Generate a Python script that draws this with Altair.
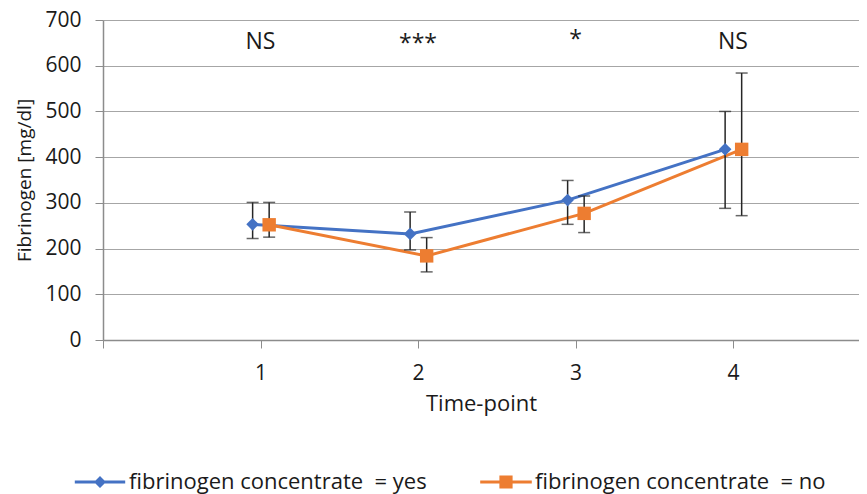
import altair as alt
import pandas as pd

# ---- data ----
timepoints = [1, 2, 3, 4]
series_names = ["fibrinogen concentrate\u00a0 = yes", "fibrinogen concentrate\u00a0 = no"]
series_colors = ["#4472C4", "#ED7D31"]
series_dx = [-0.05, 0.055]

yes_mean = [253, 232, 306, 417]
yes_low = [222, 197, 253, 288]
yes_high = [301, 280, 349, 500]

no_mean = [252, 184, 277, 417]
no_low = [225, 149, 235, 272]
no_high = [301, 224, 315, 584]

sig_labels = ["NS", "***", "*", "NS"]
sig_y = [652, 647, 656, 652]

x_ticks = [0, 1, 2, 3, 4]
y_ticks = [0, 100, 200, 300, 400, 500, 600, 700]

rows = []
for name, dx, m, lo, hi in [
    (series_names[0], series_dx[0], yes_mean, yes_low, yes_high),
    (series_names[1], series_dx[1], no_mean, no_low, no_high),
]:
    for t, a, b, c in zip(timepoints, m, lo, hi):
        rows.append({"series": name, "t": t, "x": t + dx, "mean": a, "lo": b, "hi": c})
df = pd.DataFrame(rows)
sig_df = pd.DataFrame({"t": timepoints, "y": sig_y, "label": sig_labels})

FONT = "Open Sans"
TXT = "#1a1a1a"

xscale = alt.Scale(domain=[0, 4.8], nice=False, zero=False)
yscale = alt.Scale(domain=[0, 700], nice=False)
cscale = alt.Scale(domain=series_names, range=series_colors)

yes_path = ("M-4.2,-0.25L-0.75,-0.25L0,-1L0.75,-0.25L4.2,-0.25L4.2,0.25"
            "L0.75,0.25L0,1L-0.75,0.25L-4.2,0.25Z")
no_path = ("M-4.3,-0.25L-1.1,-0.25L-1.1,-1.1L1.1,-1.1L1.1,-0.25L4.3,-0.25"
           "L4.3,0.25L1.1,0.25L1.1,1.1L-1.1,1.1L-1.1,0.25L-4.3,0.25Z")

xaxis = alt.Axis(
    values=x_ticks, labelExpr="datum.value == 0 ? '' : datum.label",
    title="Time-point", grid=False, tickSize=8, labelPadding=14,
    titlePadding=10, labelFontSize=21, titleFontSize=22,
)
yaxis = alt.Axis(
    values=y_ticks, title="Fibrinogen [mg/dl]", grid=True, tickSize=8,
    labelPadding=14, titlePadding=10, labelFontSize=21, titleFontSize=19,
)
leg = alt.Legend(
    title=None, orient="none", direction="horizontal",
    legendX=-14, legendY=451, symbolSize=144, symbolStrokeWidth=0,
    symbolOpacity=1, labelFontSize=22, labelFont=FONT, labelColor=TXT,
    labelOffset=18, labelLimit=0, columnPadding=53, padding=0,
)

X = lambda f: alt.X(f, scale=xscale, axis=xaxis)
Y = lambda f: alt.Y(f, scale=yscale, axis=yaxis)

base = alt.Chart(df)

lines = base.mark_line(strokeWidth=3).encode(
    x=X("x:Q"), y=Y("mean:Q"),
    color=alt.Color("series:N", scale=cscale, legend=leg),
    detail="series:N",
)

err = base.mark_rule(color="#262626", strokeWidth=1.5).encode(
    x=X("x:Q"), y=Y("lo:Q"), y2="hi:Q",
)
cap_hi = base.mark_tick(color="#262626", thickness=1.5, size=12, orient="horizontal").encode(
    x=X("x:Q"), y=Y("hi:Q"),
)
cap_lo = base.mark_tick(color="#262626", thickness=1.5, size=12, orient="horizontal").encode(
    x=X("x:Q"), y=Y("lo:Q"),
)

pts_yes = base.transform_filter(alt.datum.series == series_names[0]).mark_point(
    shape="diamond", filled=True, size=160, opacity=1, color=series_colors[0]
).encode(x=X("x:Q"), y=Y("mean:Q"))
pts_no = base.transform_filter(alt.datum.series == series_names[1]).mark_point(
    shape="square", filled=True, size=180, opacity=1, color=series_colors[1]
).encode(x=X("x:Q"), y=Y("mean:Q"))

legend_layer = base.mark_point(filled=True, opacity=0).encode(
    x=X("x:Q"), y=Y("mean:Q"),
    color=alt.Color("series:N", scale=cscale, legend=leg),
    shape=alt.Shape("series:N", scale=alt.Scale(domain=series_names, range=[yes_path, no_path]),
                    legend=leg),
)

sig = alt.Chart(sig_df).mark_text(fontSize=23, font=FONT, color=TXT, baseline="middle").encode(
    x=X("t:Q"), y=Y("y:Q"), text="label:N",
)

chart = alt.layer(lines, err, cap_hi, cap_lo, pts_yes, pts_no, legend_layer, sig).properties(
    width=756, height=320,
    autosize=alt.AutoSizeParams(type="none"),
    padding={"left": 95, "top": 12, "right": 0, "bottom": 154},
).configure_view(stroke=None).configure_axis(
    labelFont=FONT, titleFont=FONT, labelColor=TXT, titleColor=TXT,
    titleFontWeight="normal", domainColor="#8c8c8c", tickColor="#8c8c8c",
    gridColor="#a6a6a6", gridWidth=1.2, domainWidth=1.5, tickWidth=1,
)

chart.save("out.html", embed_options={"renderer": "svg", "actions": False})
